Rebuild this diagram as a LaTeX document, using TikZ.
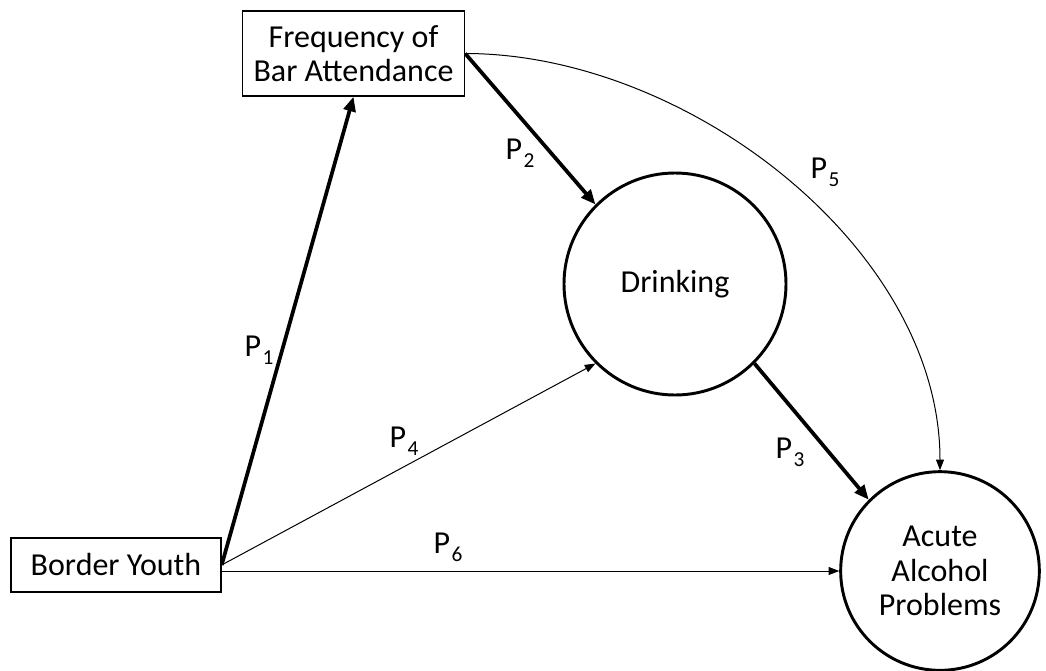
\documentclass[tikz,border=0pt]{standalone}
\usepackage{fontspec}
\setmainfont{Carlito}
\usepackage{tikz}
\usetikzlibrary{positioning,arrows.meta,shapes.geometric}
\definecolor{cLine}{HTML}{000000}
\newcommand{\pth}[1]{P\kern1pt\raisebox{-6pt}{\fontsize{16}{16}\selectfont #1}}
\tikzset{
  sbox/.style={draw=cLine,line width=1pt,align=center,inner sep=2pt,
               fill=white},
  scirc/.style={circle,draw=cLine,line width=2.2pt,align=center,inner sep=0pt},
  sar/.style={-{Triangle[length=8pt,width=6pt]},line width=0.75pt,cLine},
  sthk/.style={-{Triangle[length=11pt,width=9pt]},line width=2.8pt,cLine},
  slab/.style={inner sep=0pt},
}
\begin{document}
\begin{tikzpicture}[x=0.75pt,y=-0.75pt,font=\fontsize{24}{26}\selectfont]
  \useasboundingbox (0,0) rectangle (1046,671);
  % variables
  \node[sbox,minimum width=166.5pt,minimum height=63.75pt] (freq) at (353.5,53.5)
    {Frequency of\\Bar Attendance};
  \node[sbox,minimum width=157.5pt,minimum height=40.5pt] (youth) at (116,565)
    {Border Youth};
  \node[scirc,minimum size=166.5pt] (drink) at (675,284) {Drinking};
  \node[scirc,minimum size=149pt] (acute) at (940,571) {Acute\\Alcohol\\Problems};
  % paths
  \draw[sthk] (youth.east) -- (freq.south);
  \draw[sthk] (freq.east) -- (drink.135);
  \draw[sthk] (drink.-45) -- (acute.135);
  \draw[sar] (youth.east) -- (drink.225);
  \draw[sar] (freq.east) to[out=0,in=90,looseness=0.9] (acute.north);
  \draw[sar] (youth.east |- acute.west) -- (acute.west);
  % path labels
  \node[slab] (p1) at (259,350) {\pth{1}};
  \node[slab] (p2) at (520,153) {\pth{2}};
  \node[slab] (p3) at (790,452) {\pth{3}};
  \node[slab] (p4) at (404,441) {\pth{4}};
  \node[slab] (p5) at (825,172) {\pth{5}};
  \node[slab] (p6) at (448,547) {\pth{6}};
\end{tikzpicture}
\end{document}
